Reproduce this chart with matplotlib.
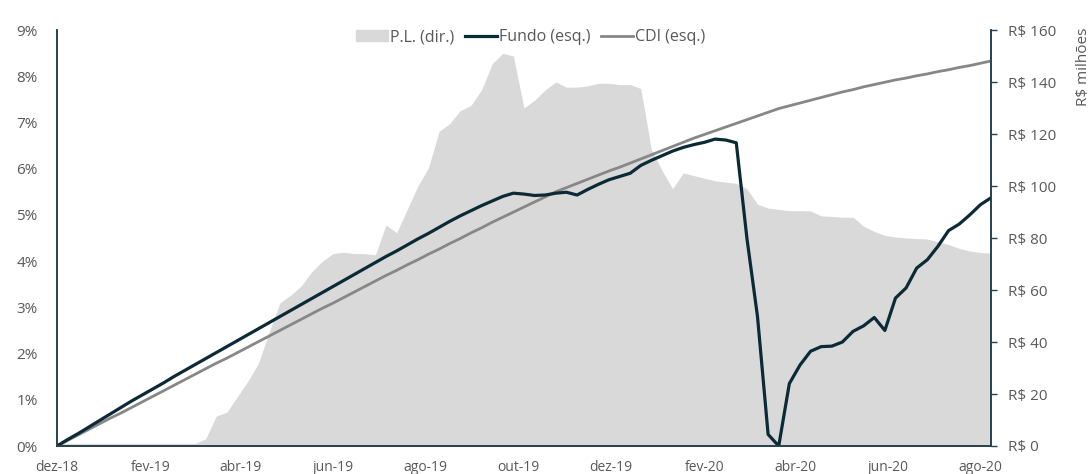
import matplotlib
matplotlib.use("Agg")
import matplotlib.pyplot as plt
import matplotlib.patches as mpatches
import matplotlib.lines as mlines
import pandas as pd

plt.rcParams['font.family'] = ['Open Sans', 'DejaVu Sans']

# weekly observations, first one on 28/12/2018
datas = pd.date_range('2018-12-28', periods=89, freq='7D')

# Fundo, retorno acumulado (%)
fundo = [0.00, 0.14, 0.27, 0.41, 0.55, 0.69, 0.83, 0.97, 1.10, 1.23,
         1.36, 1.50, 1.63, 1.76, 1.89, 2.02, 2.15, 2.28, 2.41, 2.54,
         2.67, 2.80, 2.93, 3.06, 3.19, 3.32, 3.45, 3.58, 3.71, 3.84,
         3.97, 4.10, 4.22, 4.35, 4.48, 4.60, 4.73, 4.86, 4.98, 5.09,
         5.20, 5.30, 5.40, 5.47, 5.45, 5.42, 5.43, 5.47, 5.49, 5.43,
         5.55, 5.66, 5.76, 5.83, 5.90, 6.07, 6.18, 6.28, 6.38, 6.46,
         6.52, 6.57, 6.64, 6.62, 6.56, 4.50, 2.80, 0.25, 0.00, 1.35,
         1.75, 2.05, 2.15, 2.16, 2.25, 2.48, 2.60, 2.78, 2.50, 3.20,
         3.42, 3.85, 4.03, 4.32, 4.66, 4.80, 5.00, 5.22, 5.37]

# CDI acumulado (%)
cdi = [0.00, 0.12, 0.24, 0.36, 0.48, 0.60, 0.71, 0.83, 0.95, 1.07,
       1.19, 1.31, 1.43, 1.55, 1.67, 1.79, 1.90, 2.02, 2.14, 2.26,
       2.38, 2.50, 2.62, 2.74, 2.86, 2.98, 3.09, 3.21, 3.33, 3.45,
       3.57, 3.69, 3.80, 3.92, 4.03, 4.15, 4.26, 4.38, 4.49, 4.61,
       4.72, 4.84, 4.95, 5.06, 5.17, 5.28, 5.39, 5.50, 5.59, 5.68,
       5.77, 5.86, 5.95, 6.03, 6.12, 6.21, 6.30, 6.39, 6.48, 6.57,
       6.66, 6.74, 6.82, 6.90, 6.98, 7.06, 7.14, 7.22, 7.30, 7.36,
       7.42, 7.48, 7.54, 7.60, 7.66, 7.71, 7.77, 7.82, 7.87, 7.92,
       7.96, 8.01, 8.05, 8.10, 8.14, 8.19, 8.23, 8.28, 8.33]

# Patrimonio liquido (R$ milhoes)
pl = [1, 1, 1, 1, 1, 1, 1, 1, 1, 1,
      1, 1, 1, 1, 2.7, 11.5, 13, 19, 25, 32,
      44, 55, 58, 61.5, 67, 71, 74, 74.5, 74, 74,
      73.5, 85, 82, 91, 100, 107, 121, 124, 129, 131,
      137, 147, 151, 150, 130, 133, 137, 140, 138, 138,
      138.5, 139.5, 139.5, 139, 139, 137.5, 114, 106, 99, 105,
      104, 103, 102, 101.5, 101, 99, 93, 91.5, 91, 90.5,
      90.5, 90.4, 88.5, 88.3, 88, 88, 84.5, 82.5, 81, 80.4,
      80, 79.8, 79.6, 78.5, 77.5, 76, 75, 74.4, 74.2]

tick_labels = ['dez-18', 'fev-19', 'abr-19', 'jun-19', 'ago-19', 'out-19',
               'dez-19', 'fev-20', 'abr-20', 'jun-20', 'ago-20']
tick_datas = pd.date_range('2018-12-28', periods=11, freq=pd.DateOffset(months=2))

cor_fundo = '#0b2a35'
cor_cdi = '#878787'
cor_pl = '#d9d9d9'
cor_txt = '#595959'
cor_eixo = '#27414d'

fig = plt.figure(figsize=(10.91, 4.74), dpi=100)
ax = fig.add_axes([57/1091, 1-446/474, (991-57)/1091, (446-30)/474])
ax2 = ax.twinx()

ax2.fill_between(datas, pl, 0, color=cor_pl, lw=0)
ax2.set_ylim(0, 160)
ax2.set_yticks(range(0, 161, 20))
ax2.set_yticklabels(['R$ %d' % v for v in range(0, 161, 20)])

ax.plot(datas, cdi, color=cor_cdi, lw=2.0)
ax.plot(datas, fundo, color=cor_fundo, lw=2.3)
ax.set_ylim(0, 9)
ax.set_yticks(range(0, 10))
ax.set_yticklabels(['%d%%' % v for v in range(0, 10)])
ax.set_xlim(pd.Timestamp('2018-12-28'), pd.Timestamp('2020-09-04'))
ax.set_xticks(tick_datas)
ax.set_xticklabels(tick_labels)

ax.set_zorder(ax2.get_zorder() + 1)
ax.patch.set_visible(False)

for a in (ax, ax2):
    a.spines['top'].set_visible(False)
    for s in ('left', 'right', 'bottom'):
        a.spines[s].set_color(cor_eixo)
        a.spines[s].set_linewidth(1.2)

ax.tick_params(axis='y', length=0, pad=14, labelsize=11, colors=cor_txt)
ax.tick_params(axis='x', length=0, pad=10, labelsize=10, colors=cor_txt)
ax2.tick_params(axis='y', length=4.5, width=1.0, color=cor_eixo, pad=8,
                labelsize=11, labelcolor=cor_txt)

fig.text(1083/1091, 1-28/474, 'R$ milhões', rotation=90, va='top', ha='center',
         fontsize=11, color=cor_txt)

h_pl = mpatches.Patch(color=cor_pl, label='P.L. (dir.)')
h_fundo = mlines.Line2D([], [], color=cor_fundo, lw=2.3, label='Fundo (esq.)')
h_cdi = mlines.Line2D([], [], color=cor_cdi, lw=2.0, label='CDI (esq.)')
leg = ax.legend(handles=[h_pl, h_fundo, h_cdi], loc='center', ncol=3,
                bbox_to_anchor=(0.507, 0.983), frameon=False, fontsize=11.5,
                handlelength=2.0, handleheight=0.6, handletextpad=0.1,
                columnspacing=0.7, borderaxespad=0)
for t in leg.get_texts():
    t.set_color(cor_txt)

fig.savefig('out.png', dpi=100)
